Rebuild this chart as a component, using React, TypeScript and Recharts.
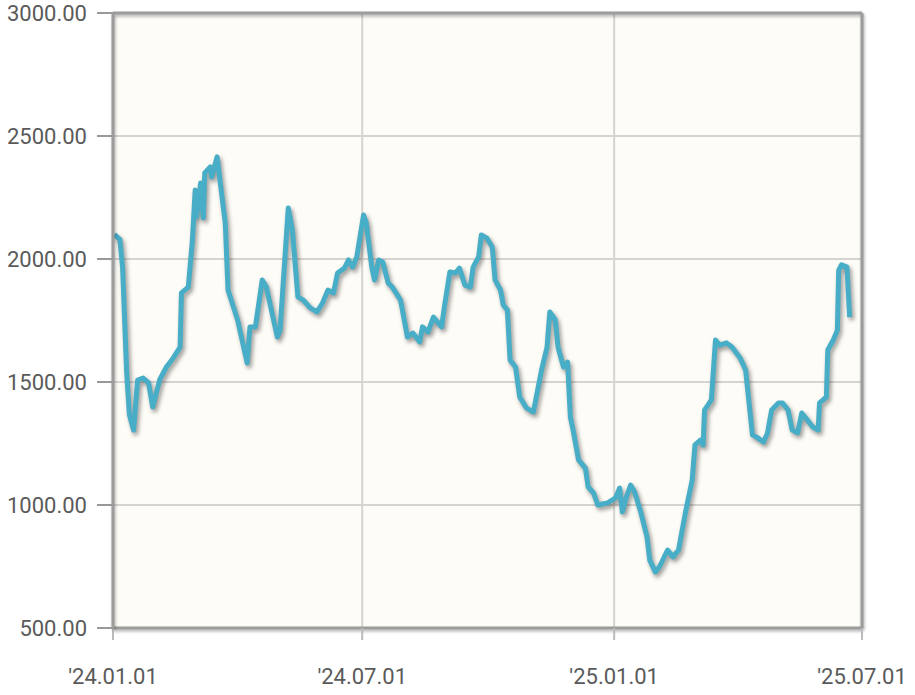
import {
  CartesianGrid,
  Line,
  LineChart,
  ReferenceLine,
  XAxis,
  YAxis,
} from "recharts";

// days counted from 2024-01-01
const days = [
  1, 5, 7, 10, 12, 15, 18, 22, 26, 29, 34, 39, 44, 49, 50, 55, 58, 60, 61, 64,
  66, 67, 71, 72, 76, 82, 84, 91, 98, 100, 104, 109, 112, 120, 122, 128, 131,
  135, 139, 144, 149, 153, 157, 161, 164, 169, 172, 175, 178, 183, 185, 189,
  191, 194, 197, 201, 204, 210, 215, 219, 224, 226, 230, 234, 240, 242, 246,
  250, 253, 257, 261, 263, 267, 269, 273, 277, 279, 283, 285, 288, 290, 294,
  297, 302, 307, 313, 317, 319, 323, 325, 329, 332, 334, 336, 340, 345, 347,
  351, 354, 361, 367, 370, 372, 375, 378, 381, 385, 390, 392, 396, 399, 405,
  409, 413, 418, 423, 425, 429, 431, 432, 437, 440, 443, 448, 452, 458, 462,
  467, 470, 475, 478, 481, 486, 489, 493, 496, 500, 503, 507, 511, 515, 516,
  521, 522, 526, 529, 530, 532, 536, 538,
];

const prices = [
  2100, 2080, 1967, 1537, 1366, 1305, 1508, 1516, 1496, 1398, 1508, 1561, 1598,
  1642, 1862, 1886, 2077, 2280, 2171, 2309, 2167, 2350, 2374, 2333, 2415, 2146,
  1874, 1752, 1577, 1724, 1724, 1915, 1886, 1683, 1711, 2207, 2118, 1846, 1833,
  1801, 1785, 1821, 1874, 1862, 1943, 1963, 1996, 1967, 2008, 2179, 2146, 1967,
  1915, 1996, 1988, 1902, 1886, 1833, 1683, 1699, 1663, 1724, 1703, 1764, 1724,
  1805, 1947, 1943, 1963, 1894, 1886, 1967, 2008, 2098, 2085, 2049, 1915, 1874,
  1813, 1793, 1589, 1561, 1439, 1394, 1378, 1549, 1642, 1785, 1752, 1642, 1561,
  1581, 1358, 1305, 1183, 1150, 1073, 1049, 1000, 1008, 1029, 1069, 972, 1033,
  1081, 1053, 980, 870, 776, 728, 748, 817, 789, 817, 968, 1102, 1244, 1264,
  1244, 1386, 1427, 1671, 1650, 1659, 1642, 1598, 1549, 1285, 1276, 1256, 1293,
  1386, 1415, 1415, 1386, 1305, 1293, 1374, 1346, 1317, 1305, 1415, 1439, 1630,
  1671, 1711, 1955, 1976, 1967, 1764,
];

const tickDays = [0, 182, 366, 547];
const tickLabels = ["'24.01.01", "'24.07.01", "'25.01.01", "'25.07.01"];
const priceTicks = [500, 1000, 1500, 2000, 2500, 3000];

const data = days.map((d, i) => ({ day: d, price: prices[i] }));

const axisColor = "#9c9c9c";
const tickStyle = { fill: "#5a5a5a", fontSize: 22, fontFamily: "Roboto, sans-serif" };

export default function App() {
  return (
    <div style={{ width: 915, height: 695, background: "#fff" }}>
      <style>{`
        body { margin: 0; }
        .price-line path { filter: drop-shadow(2px 3px 2px rgba(0,0,0,0.4)); }
        .recharts-cartesian-axis-line, .recharts-reference-line-line {
          filter: drop-shadow(1px 2px 1.5px rgba(0,0,0,0.3));
        }
      `}</style>
      <LineChart
        width={915}
        height={695}
        data={data}
        margin={{ top: 13, right: 53, bottom: 0, left: 0 }}
      >
        <CartesianGrid
          stroke="#d6d4d0"
          strokeWidth={2}
          fill="#fdfcf7"
          fillOpacity={1}
        />
        <XAxis
          dataKey="day"
          type="number"
          domain={[0, 547]}
          ticks={tickDays}
          tickFormatter={(v) => tickLabels[tickDays.indexOf(v)] ?? ""}
          height={67}
          tickSize={12}
          tickMargin={28}
          tick={tickStyle}
          stroke={axisColor}
          axisLine={{ stroke: axisColor, strokeWidth: 3 }}
          tickLine={{ stroke: "#bbb", strokeWidth: 2 }}
          interval={0}
        />
        <YAxis
          type="number"
          domain={[500, 3000]}
          ticks={priceTicks}
          tickFormatter={(v) => v.toFixed(2)}
          width={113}
          tickSize={16}
          tickMargin={10}
          tick={tickStyle}
          axisLine={{ stroke: axisColor, strokeWidth: 3 }}
          tickLine={{ stroke: "#999", strokeWidth: 2 }}
          interval={0}
        />
        <ReferenceLine y={3000} stroke={axisColor} strokeWidth={3} />
        <ReferenceLine x={547} stroke={axisColor} strokeWidth={3} />
        <Line
          className="price-line"
          type="linear"
          dataKey="price"
          stroke="#48adc6"
          strokeWidth={5}
          strokeLinejoin="round"
          dot={false}
          activeDot={false}
          isAnimationActive={false}
        />
      </LineChart>
    </div>
  );
}
